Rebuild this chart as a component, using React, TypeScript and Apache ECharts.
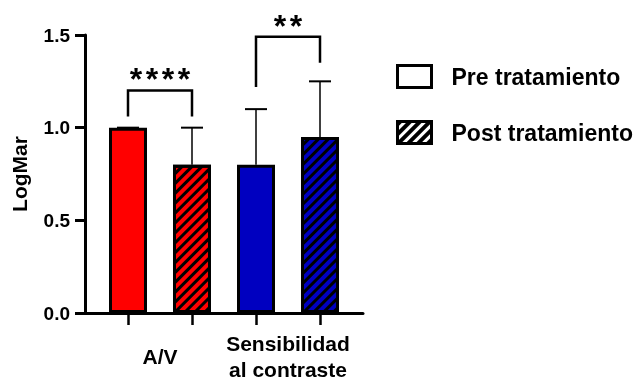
import React, { useEffect, useRef } from "react";
import * as echarts from "echarts";

const categories = ["Pre A/V", "Post A/V", "Pre SC", "Post SC"];
const groupLabels = ["A/V", "Sensibilidad\nal contraste"];
const preValues: (number | null)[] = [1.0, null, 0.8, null];
const postValues: (number | null)[] = [null, 0.8, null, 0.95];
const errorUpper = [1.0, 1.0, 1.1, 1.25];
const barColors = ["#ff0000", "#ff0000", "#0000c0", "#0000c0"];
const yMin = 0;
const yMax = 1.5;
const yInterval = 0.5;
// significance brackets
const bracketFrom = [0, 2];
const bracketTo = [1, 3];
const bracketTop = [1.2, 1.49];
const bracketLeftEnd = [1.06, 1.22];
const bracketRightEnd = [1.06, 1.35];
const bracketLabelY = [1.3, 1.585];
const bracketStars = ["****", "**"];

const FONT = "'Liberation Sans', Arial, sans-serif";

const hatch = {
  symbol: "rect",
  symbolSize: 1,
  color: "#000",
  dashArrayX: [1, 0],
  dashArrayY: [3, 3.4],
  rotation: -Math.PI / 4,
};
const legendHatch = {
  symbol: "rect",
  symbolSize: 1,
  color: "#000",
  dashArrayX: [1, 0],
  dashArrayY: [4, 3],
  rotation: -Math.PI / 4,
};

export default function App() {
  const ref = useRef<HTMLDivElement>(null);
  useEffect(() => {
    if (!ref.current) return;
    const chart = echarts.init(ref.current, null, { renderer: "svg" });
    const toBar = (vals: (number | null)[]) =>
      vals.map((v, i) => (v == null ? "-" : { value: v, itemStyle: { color: barColors[i] } }));
    const errData = categories.map((_, i) => [i, (preValues[i] ?? postValues[i]) as number, errorUpper[i]]);
    const brData = bracketFrom.map((f, i) => [f, bracketTo[i], bracketTop[i], bracketLeftEnd[i], bracketRightEnd[i], bracketLabelY[i], i]);

    chart.setOption({
      animation: false,
      grid: [
        { left: 85, top: 35, width: 278, height: 278 },
        { left: 96, top: 35, width: 256, height: 278 },
      ],
      legend: {
        orient: "vertical",
        left: 396,
        top: 64,
        padding: 0,
        itemWidth: 34,
        itemHeight: 22,
        itemGap: 31,
        icon: "rect",
        textStyle: { fontFamily: FONT, fontWeight: "bold", fontSize: 23, color: "#000", padding: [0, 0, 0, 15] },
        data: [
          { name: "Pre tratamiento", itemStyle: { color: "#fff", borderColor: "#000", borderWidth: 3 } },
          { name: "Post tratamiento", itemStyle: { color: "#fff", borderColor: "#000", borderWidth: 3, decal: legendHatch } },
        ],
      },
      xAxis: [
        {
          type: "value",
          gridIndex: 0,
          min: 0,
          max: 1,
          axisLine: { show: true, lineStyle: { color: "#000", width: 3 } },
          axisTick: { show: false },
          axisLabel: { show: false },
          splitLine: { show: false },
        },
        {
          type: "category",
          gridIndex: 1,
          data: categories,
          axisLine: { show: false },
          axisTick: { show: true, alignWithLabel: true, length: 12, lineStyle: { color: "#000", width: 2.5 } },
          axisLabel: { show: false },
        },
        {
          type: "category",
          gridIndex: 1,
          data: groupLabels,
          position: "bottom",
          axisLine: { show: false },
          axisTick: { show: false },
          axisLabel: {
            interval: 0,
            margin: 43,
            verticalAlign: "middle",
            lineHeight: 26,
            fontFamily: FONT,
            fontWeight: "bold",
            fontSize: 21,
            color: "#000",
          },
        },
      ],
      yAxis: [
        {
          type: "value",
          gridIndex: 0,
          min: yMin,
          max: yMax,
          interval: yInterval,
          name: "LogMar",
          nameLocation: "middle",
          nameGap: 55,
          nameTextStyle: { fontFamily: FONT, fontWeight: "bold", fontSize: 21, color: "#000" },
          axisLine: { show: true, lineStyle: { color: "#000", width: 3 } },
          axisTick: { show: true, length: 10, lineStyle: { color: "#000", width: 3 } },
          axisLabel: {
            margin: 15,
            fontFamily: FONT,
            fontWeight: "bold",
            fontSize: 19,
            color: "#000",
            formatter: (v: number) => v.toFixed(1),
          },
          splitLine: { show: false },
        },
        { type: "value", gridIndex: 1, min: yMin, max: yMax, interval: yInterval, show: false },
      ],
      series: [
        {
          name: "Pre tratamiento",
          type: "bar",
          xAxisIndex: 1,
          yAxisIndex: 1,
          barWidth: 38,
          barGap: "-100%",
          itemStyle: { borderColor: "#000", borderWidth: 3 },
          data: toBar(preValues),
        },
        {
          name: "Post tratamiento",
          type: "bar",
          xAxisIndex: 1,
          yAxisIndex: 1,
          barWidth: 38,
          barGap: "-100%",
          itemStyle: { borderColor: "#000", borderWidth: 3, decal: hatch },
          data: toBar(postValues),
        },
        {
          type: "custom",
          xAxisIndex: 1,
          yAxisIndex: 1,
          silent: true,
          data: errData,
          renderItem: (params: any, api: any) => {
            const base = api.coord([api.value(0), api.value(1)]);
            const top = api.coord([api.value(0), api.value(2)]);
            return {
              type: "group",
              children: [
                { type: "line", shape: { x1: base[0], y1: base[1], x2: top[0], y2: top[1] }, style: { stroke: "#000", lineWidth: 1.5 } },
                { type: "line", shape: { x1: top[0] - 11, y1: top[1], x2: top[0] + 11, y2: top[1] }, style: { stroke: "#000", lineWidth: 2 } },
              ],
            };
          },
        },
        {
          type: "custom",
          xAxisIndex: 1,
          yAxisIndex: 1,
          silent: true,
          clip: false,
          data: brData,
          renderItem: (params: any, api: any) => {
            const a = api.coord([api.value(0), api.value(2)]);
            const b = api.coord([api.value(1), api.value(2)]);
            const la = api.coord([api.value(0), api.value(3)]);
            const rb = api.coord([api.value(1), api.value(4)]);
            const sy = api.coord([api.value(0), api.value(5)])[1];
            const stars = bracketStars[api.value(6)];
            const cx = (a[0] + b[0]) / 2;
            const n = stars.length;
            const children: any[] = [
              {
                type: "polyline",
                shape: { points: [[la[0], la[1]], [a[0], a[1]], [b[0], b[1]], [rb[0], rb[1]]] },
                style: { stroke: "#000", lineWidth: 2.5, fill: null },
              },
            ];
            for (let k = 0; k < n; k++) {
              children.push({
                type: "text",
                x: cx + (k - (n - 1) / 2) * 16,
                y: sy + 7,
                style: {
                  text: "*",
                  fontFamily: FONT,
                  fontWeight: "bold",
                  fontSize: 32,
                  fill: "#000",
                  align: "center",
                  verticalAlign: "middle",
                },
              });
            }
            return { type: "group", children };
          },
        },
      ],
    });
    return () => chart.dispose();
  }, []);
  return <div ref={ref} style={{ position: "fixed", left: 0, top: 0, width: 635, height: 383 }} />;
}
